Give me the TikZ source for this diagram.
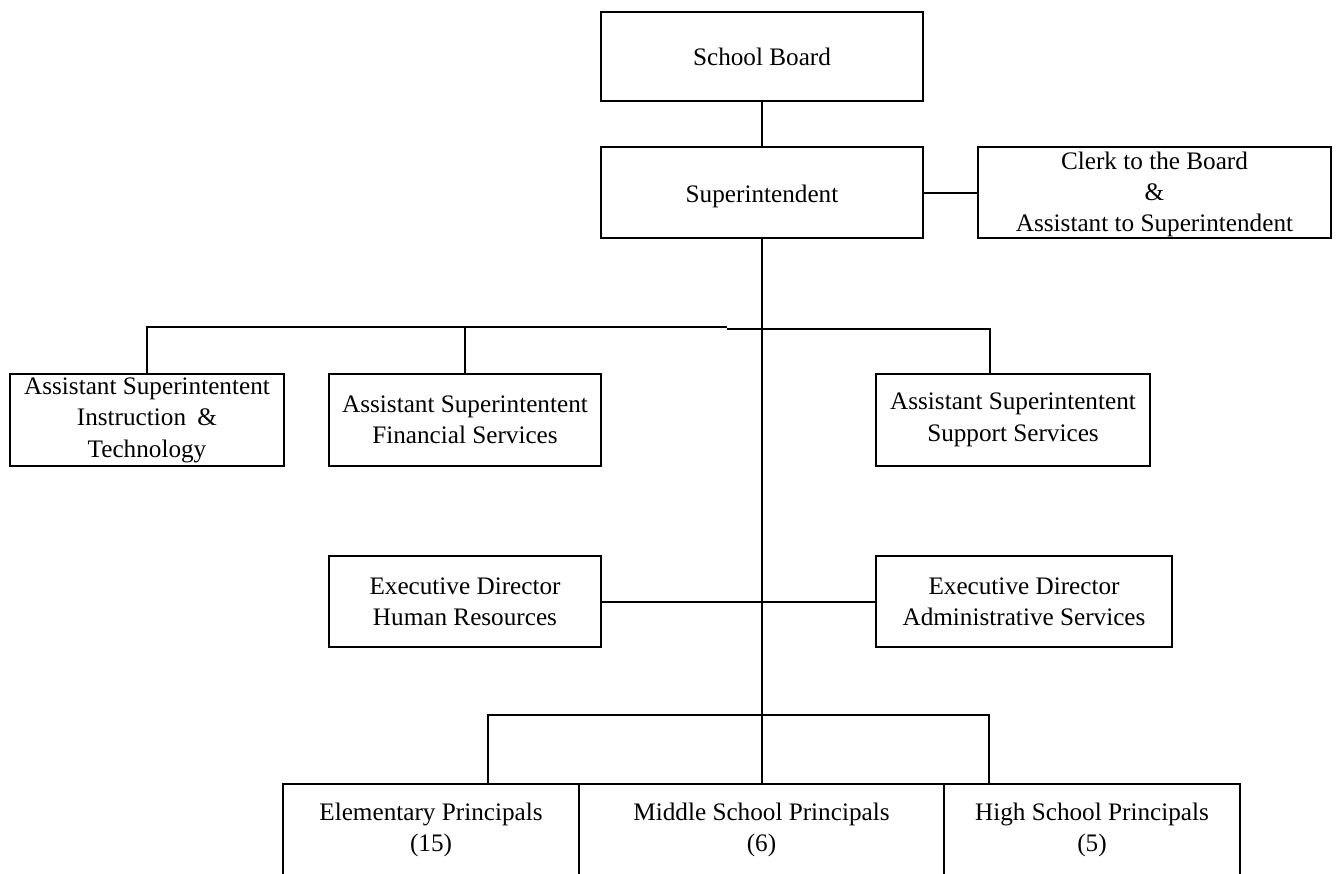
\documentclass[tikz,border=0pt]{standalone}
\usepackage{fontspec}
\setmainfont{Liberation Serif}
\newcommand{\lowered}[2]{\raisebox{-#1}[\dimexpr\height-1pt\relax][\dimexpr\depth-1pt\relax]{#2}}
\begin{document}
\begin{tikzpicture}[x=0.5pt,y=-0.5pt,
  box/.style={draw, line width=1pt, inner sep=0pt, align=center,
    font=\fontsize{12.6pt}{15.7pt}\selectfont},
  link/.style={line width=1pt}]
\useasboundingbox (0,0) rectangle (1336,873);
\clip (0,0) rectangle (1336,873);

% top of the chart
\node[box, minimum width=161pt, minimum height=44.5pt] (sb) at (762,56.5) {School Board};
\node[box, minimum width=161pt, minimum height=45.5pt] (sup) at (762,192.5)
  {\lowered{2pt}{Superintendent}};
\node[box, minimum width=176.5pt, minimum height=45.5pt] (clerk) at (1154.5,192.5)
  {\lowered{1pt}{\begin{tabular}{@{}c@{}}Clerk to the Board\\[-0.2pt] \&\\[-0.2pt] Assistant to Superintendent\end{tabular}}};

% assistant superintendents
\node[box, minimum width=137pt, minimum height=46pt] (inst) at (147,420)
  {Assistant Superintentent\\ Instruction\hspace{0.45em}\&\\ Technology};
\node[box, minimum width=136pt, minimum height=46pt] (fin) at (465,420)
  {Assistant Superintentent\\ Financial Services};
\node[box, minimum width=137pt, minimum height=46pt] (supp) at (1013,420)
  {Assistant Superintentent\\ Support Services};

% executive directors
\node[box, minimum width=136pt, minimum height=45.5pt] (hr) at (465,601.5)
  {Executive Director\\ Human Resources};
\node[box, minimum width=148pt, minimum height=45.5pt] (adm) at (1024,601.5)
  {Executive Director\\ Administrative Services};

% principals
\node[box, minimum width=148pt, minimum height=46pt] (elem) at (431,830)
  {Elementary Principals\\ (15)};
\node[box, minimum width=182.5pt, minimum height=46pt] (mid) at (761.5,830)
  {Middle School Principals\\ (6)};
\node[box, minimum width=148pt, minimum height=46pt] (high) at (1092,830)
  {High School Principals\\ (5)};

% bus lines
\coordinate (busL) at (147,327);
\coordinate (busM) at (727,327);
\coordinate (busR) at (990,328.5);
\coordinate (botL) at (488,715);
\coordinate (botR) at (989,715);

% connectors
\draw[link] (sb.south) -- (sup.north);
\draw[link] (sup.east) -- (clerk.west);
\draw[link] (sup.south) -- (sup.south |- mid.north);
\draw[link] (inst.north) -- (inst.north |- busL) -- (busM);
\draw[link] (fin.north) -- (fin.north |- busL);
\draw[link] (busM |- busR) -- (busR) -- (busR |- supp.north);
\draw[link] (hr.east) -- (adm.west);
\draw[link] (botL |- elem.north) -- (botL) -- (botR) -- (botR |- high.north);
\end{tikzpicture}
\end{document}
